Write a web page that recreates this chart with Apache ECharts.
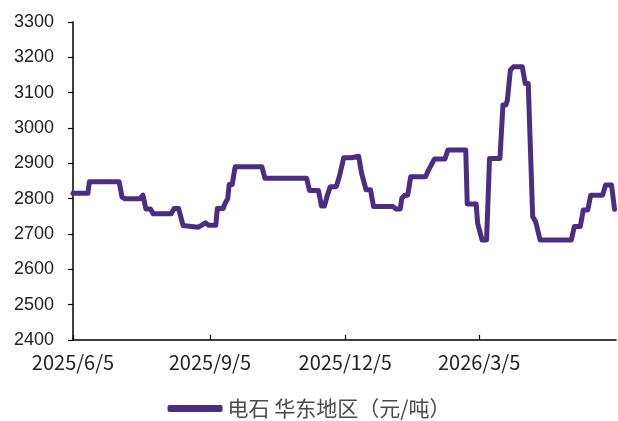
<!DOCTYPE html>
<html><head><meta charset="utf-8">
<script src="https://cdn.jsdelivr.net/npm/echarts@6/dist/echarts.min.js"></script>
<style>html,body{margin:0;padding:0;background:#fff}#c{width:618px;height:421px}</style>
</head><body><div id="c"></div>
<script>
var seriesName = '电石 华东地区（元/吨）';
var dates = ['2025-06-05','2025-06-15','2025-06-16','2025-07-06','2025-07-08','2025-07-10','2025-07-20','2025-07-22','2025-07-24','2025-07-27','2025-07-29','2025-08-10','2025-08-12','2025-08-15','2025-08-18','2025-08-19','2025-08-28','2025-08-31','2025-09-02','2025-09-04','2025-09-09','2025-09-10','2025-09-14','2025-09-15','2025-09-17','2025-09-18','2025-09-20','2025-09-22','2025-10-10','2025-10-12','2025-11-09','2025-11-11','2025-11-17','2025-11-19','2025-11-21','2025-11-23','2025-11-25','2025-11-29','2025-12-01','2025-12-02','2025-12-04','2025-12-09','2025-12-10','2025-12-14','2025-12-16','2025-12-19','2025-12-22','2025-12-24','2026-01-06','2026-01-08','2026-01-11','2026-01-12','2026-01-14','2026-01-16','2026-01-18','2026-01-28','2026-01-30','2026-02-02','2026-02-03','2026-02-10','2026-02-12','2026-02-24','2026-02-25','2026-03-03','2026-03-04','2026-03-05','2026-03-07','2026-03-10','2026-03-12','2026-03-19','2026-03-21','2026-03-23','2026-03-24','2026-03-26','2026-03-28','2026-04-03','2026-04-05','2026-04-07','2026-04-10','2026-04-12','2026-04-15','2026-05-06','2026-05-08','2026-05-12','2026-05-14','2026-05-17','2026-05-19','2026-05-27','2026-05-29','2026-06-02','2026-06-04'];
var prices = [2815,2815,2848,2848,2804,2800,2800,2810,2771,2771,2757,2757,2772,2772,2724,2719,2719,2726,2732,2725,2725,2772,2772,2785,2800,2840,2840,2890,2890,2858,2858,2823,2823,2779,2779,2810,2834,2834,2862,2862,2916,2916,2920,2920,2872,2825,2825,2778,2778,2771,2771,2801,2810,2810,2862,2862,2881,2905,2912,2912,2938,2938,2785,2785,2730,2726,2683,2683,2914,2914,3065,3065,3079,3164,3173,3173,3126,3126,2749,2735,2683,2683,2721,2721,2768,2768,2810,2810,2839,2839,2770];
var xTickDates = ['2025-06-05','2025-09-05','2025-12-05','2026-03-05'];
var xMinDate = '2025-06-05';
var xMaxDate = '2026-06-05';
var yMin = 2400, yMax = 3300, yStep = 100;

function ts(s){var p=s.split('-');return Date.UTC(+p[0],+p[1]-1,+p[2]);}
function fmt(v){var d=new Date(v);return d.getUTCFullYear()+'/'+(d.getUTCMonth()+1)+'/'+d.getUTCDate();}
var data = dates.map(function(d,i){return [ts(d),prices[i]];});
var tickVals = xTickDates.map(ts);

var chart = echarts.init(document.getElementById('c'), null, {renderer:'canvas'});
chart.setOption({
  animation:false,
  backgroundColor:'#fff',
  grid:{left:73,right:2,top:22,bottom:81,containLabel:false},
  legend:{
    top:398,left:'center',padding:0,
    data:[seriesName],
    icon:'roundRect',itemWidth:55,itemHeight:7,itemGap:10,
    textStyle:{fontFamily:'Noto Sans CJK SC',fontSize:21,color:'#4a4a4a'}
  },
  xAxis:{
    type:'value',min:ts(xMinDate),max:ts(xMaxDate),
    splitLine:{show:false},
    axisLine:{show:true,lineStyle:{color:'#000',width:1.5}},
    axisTick:{show:true,inside:true,length:5,customValues:tickVals,lineStyle:{color:'#000',width:1.2}},
    axisLabel:{customValues:tickVals,formatter:function(v){return fmt(v);},margin:12,
      fontFamily:'Noto Sans CJK SC',fontSize:20,color:'#222'}
  },
  yAxis:{
    type:'value',min:yMin,max:yMax,interval:yStep,
    splitLine:{show:false},
    axisLine:{show:true,lineStyle:{color:'#000',width:1.5}},
    axisTick:{show:true,inside:false,length:5,lineStyle:{color:'#000',width:1.2}},
    axisLabel:{margin:19,fontFamily:'Liberation Sans',fontSize:18,color:'#222',formatter:function(v){return String(v);}}
  },
  series:[{
    name:seriesName,type:'line',data:data,showSymbol:false,smooth:false,
    lineStyle:{color:'#4b2d84',width:5,cap:'round',join:'round'},
    itemStyle:{color:'#4b2d84'}
  }]
});
</script></body></html>
